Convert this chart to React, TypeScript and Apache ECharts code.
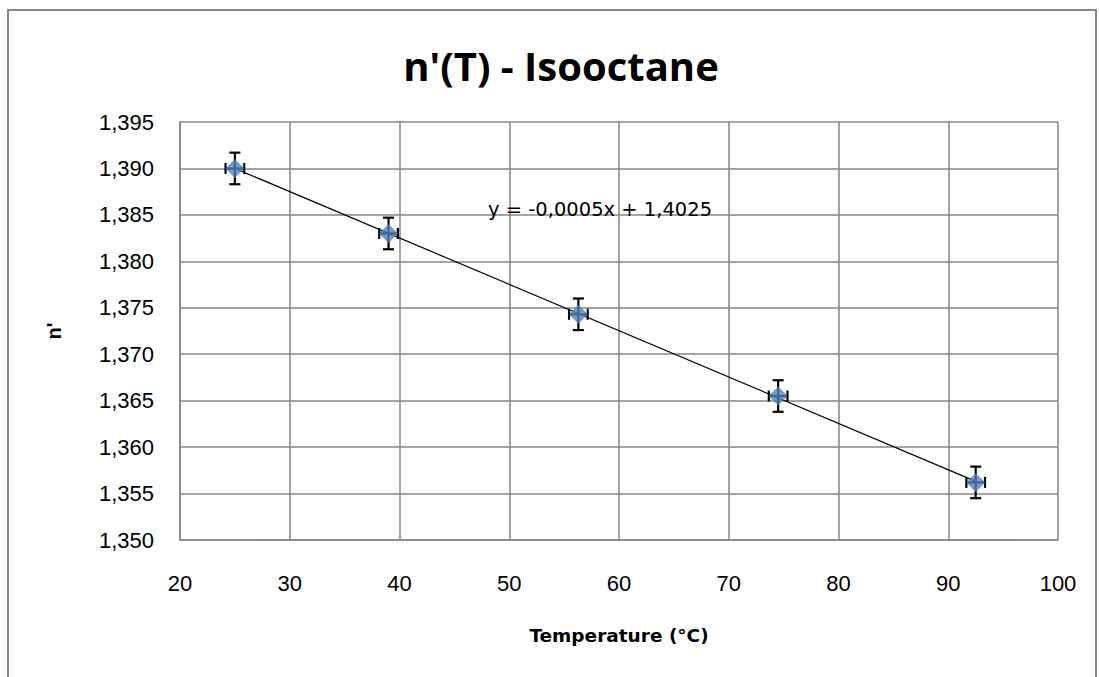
import React, { useEffect, useRef } from "react";
import * as echarts from "echarts";

const temperatures = [25, 39, 56.3, 74.5, 92.5];
const indices = [1.39, 1.383, 1.3743, 1.3655, 1.3562];
const yErrors = [0.0017, 0.0017, 0.0017, 0.0017, 0.0017];
const xErrors = [0.85, 0.85, 0.85, 0.85, 0.85];
const titleText = "n'(T) - Isooctane";
const xName = "Temperature (°C)";
const yName = "n'";
const equationText = "y = -0,0005x + 1,4025";

function fitLine(xs: number[], ys: number[]) {
  const n = xs.length;
  const mx = xs.reduce((a, b) => a + b, 0) / n;
  const my = ys.reduce((a, b) => a + b, 0) / n;
  let sxy = 0, sxx = 0;
  for (let i = 0; i < n; i++) {
    sxy += (xs[i] - mx) * (ys[i] - my);
    sxx += (xs[i] - mx) * (xs[i] - mx);
  }
  const slope = sxy / sxx;
  return { slope, intercept: my - slope * mx };
}

export default function App() {
  const ref = useRef<HTMLDivElement>(null);
  useEffect(() => {
    if (!ref.current) return;
    const chart = echarts.init(ref.current, undefined, { renderer: "svg" });
    const { slope, intercept } = fitLine(temperatures, indices);
    const xMin = Math.min(...temperatures);
    const xMax = Math.max(...temperatures);
    const trend = [
      [xMin, slope * xMin + intercept],
      [xMax, slope * xMax + intercept],
    ];
    const errData = temperatures.map((t, i) => [t, indices[i], xErrors[i], yErrors[i]]);
    const font = "'Liberation Sans', Arial, sans-serif";
    const wide = "'DejaVu Sans', sans-serif";
    const gridColor = "#868686";
    chart.setOption({
      animation: false,
      backgroundColor: "#fff",
      title: {
        text: titleText,
        left: 556,
        top: 40,
        textAlign: "center",
        textStyle: { fontFamily: "'Open Sans', sans-serif", fontSize: 40, fontWeight: "bold", color: "#000" },
      },
      graphic: [
        {
          type: "rect",
          shape: { x: 8, y: 10, width: 1088, height: 700 },
          style: { fill: "none", stroke: gridColor, lineWidth: 2 },
          silent: true,
          z: -1,
        },
        {
          type: "text",
          left: 488,
          top: 199,
          style: { text: equationText, fontFamily: wide, fontSize: 19.5, fill: "#000" },
          z: 10,
        },
      ],
      grid: { left: 180, right: 41, top: 122, bottom: 137 },
      xAxis: {
        type: "value",
        min: 20,
        max: 100,
        interval: 10,
        name: xName,
        nameLocation: "middle",
        nameGap: 86,
        nameTextStyle: { fontFamily: wide, fontSize: 18.5, fontWeight: "bold", color: "#000" },
        axisLine: { show: true, lineStyle: { color: gridColor, width: 1.5 } },
        axisTick: { show: false },
        axisLabel: { fontFamily: font, fontSize: 22, color: "#000", margin: 32 },
        splitLine: { show: true, lineStyle: { color: gridColor, width: 1.5 } },
      },
      yAxis: {
        type: "value",
        min: 1.35,
        max: 1.395,
        interval: 0.005,
        name: yName,
        nameLocation: "middle",
        nameGap: 116,
        nameRotate: 90,
        nameTextStyle: { fontFamily: font, fontSize: 20, fontWeight: "bold", color: "#000" },
        axisLine: { show: true, lineStyle: { color: gridColor, width: 1.5 } },
        axisTick: { show: false },
        axisLabel: {
          fontFamily: font,
          fontSize: 22,
          color: "#000",
          margin: 26,
          formatter: (v: number) => v.toFixed(3).replace(".", ","),
        },
        splitLine: { show: true, lineStyle: { color: gridColor, width: 1.5 } },
      },
      series: [
        {
          type: "line",
          data: trend,
          symbol: "none",
          lineStyle: { color: "#000", width: 1.2 },
          z: 2,
        },
        {
          type: "custom",
          data: errData,
          z: 3,
          renderItem: (params: any, api: any) => {
            const x = api.value(0);
            const y = api.value(1);
            const ex = api.value(2);
            const ey = api.value(3);
            const top = api.coord([x, y + ey]);
            const bot = api.coord([x, y - ey]);
            const left = api.coord([x - ex, y]);
            const right = api.coord([x + ex, y]);
            const cap = 5.5;
            const style = { stroke: "#000", lineWidth: 2.2 };
            return {
              type: "group",
              children: [
                { type: "line", shape: { x1: top[0], y1: top[1], x2: bot[0], y2: bot[1] }, style },
                { type: "line", shape: { x1: top[0] - cap, y1: top[1], x2: top[0] + cap, y2: top[1] }, style },
                { type: "line", shape: { x1: bot[0] - cap, y1: bot[1], x2: bot[0] + cap, y2: bot[1] }, style },
                { type: "line", shape: { x1: left[0], y1: left[1], x2: right[0], y2: right[1] }, style },
                { type: "line", shape: { x1: left[0], y1: left[1] - cap, x2: left[0], y2: left[1] + cap }, style },
                { type: "line", shape: { x1: right[0], y1: right[1] - cap, x2: right[0], y2: right[1] + cap }, style },
              ],
            };
          },
        },
        {
          type: "scatter",
          data: temperatures.map((t, i) => [t, indices[i]]),
          symbol: "diamond",
          symbolSize: 19,
          itemStyle: { color: "#4f81bd" },
          z: 4,
        },
      ],
    });
    return () => chart.dispose();
  }, []);
  return (
    <div
      ref={ref}
      style={{ position: "fixed", left: 0, top: 0, width: 1099, height: 677, background: "#fff" }}
    />
  );
}
